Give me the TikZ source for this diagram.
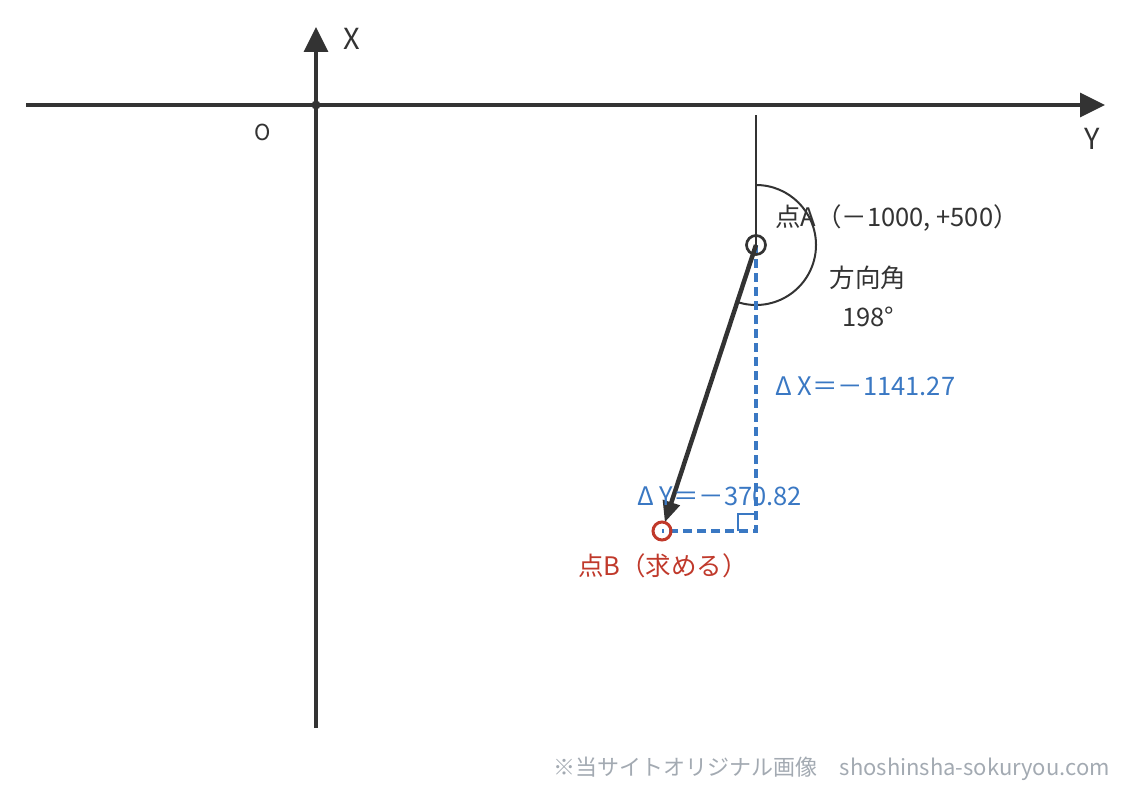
\documentclass[tikz,border=0pt]{standalone}
\usepackage{fontspec}
\setmainfont{Noto Sans CJK JP}
\usetikzlibrary{arrows.meta,calc}
\definecolor{dk}{HTML}{333333}
\definecolor{bl}{HTML}{3A78C3}
\definecolor{rd}{HTML}{C0392B}
\definecolor{wm}{HTML}{A3AAB2}
\tikzset{
  axis/.style={draw=dk,line width=3.2pt,-{Triangle[length=25pt,width=24pt]}},
  lbl/.style={font=\fontsize{25.5}{28}\selectfont,inner sep=0pt},
  dashline/.style={draw=bl,line width=3.5pt,dash pattern=on 9pt off 5pt},
}
\begin{document}
\begin{tikzpicture}[x=1pt,y=-1pt]
\useasboundingbox (0,0) rectangle (1126,792);
\coordinate (xs) at (316,728);
\coordinate (xe) at (316,27);
\coordinate (ys) at (26,105);
\coordinate (ye) at (1105,105);
\coordinate (O) at (316,105);
\coordinate (A) at (756,245);
\coordinate (B) at (662,531);
\coordinate (C) at (756,531);
\coordinate (T) at (756,115);
\coordinate (N) at (756,185);
\draw[axis] (xs) -- (xe);
\draw[axis] (ys) -- (ye);
\fill[dk] (O) circle (4.5pt);
\node[lbl,text=dk,font=\fontsize{22}{24}\selectfont] (olab) at (263,132) {O};
\node[lbl,text=dk,font=\fontsize{29}{31}\selectfont] (xlab) at (352,39) {X};
\node[lbl,text=dk,font=\fontsize{29}{31}\selectfont] (ylab) at (1092,139) {Y};
% north reference line and angle arc
\draw[dk,line width=1.5pt] (T) -- (A);
\draw[dk,line width=2pt] (N) arc[start angle=-90,end angle=108,radius=60];
% blue dashed components
\draw[dashline] (A) -- (C) -- (B);
\draw[bl,line width=2pt] (738,531) -- (738,514) -- (756,514);
% direction arrow
\draw[dk,line width=4.5pt,-{Triangle[length=21pt,width=17pt]}] (A) -- ($(A)!0.97!(B)$);
% points
\draw[dk,line width=2.7pt] (A) circle (9.5pt);
\draw[rd,line width=3pt] (B) circle (9pt);
% labels
\node[lbl,text=dk,anchor=west] (alab) at (775,218) {点A（－1000, +500）};
\node[lbl,text=dk] (ang1) at (868,278) {方向角};
\node[lbl,text=dk] (ang2) at (868,317) {198°};
\node[lbl,text=bl,anchor=west] (dx) at (775,386) {Δ X＝－1141.27};
\node[lbl,text=bl,anchor=west] (dy) at (637,496) {Δ Y＝－370.82};
\node[lbl,text=rd,anchor=west] (blab) at (578,566) {点B（求める）};
\node[lbl,text=wm,anchor=east,font=\fontsize{22}{24}\selectfont] (wmk) at (1110,769) {※当サイトオリジナル画像\hspace{22pt}shoshinsha-sokuryou.com};
\end{tikzpicture}
\end{document}
